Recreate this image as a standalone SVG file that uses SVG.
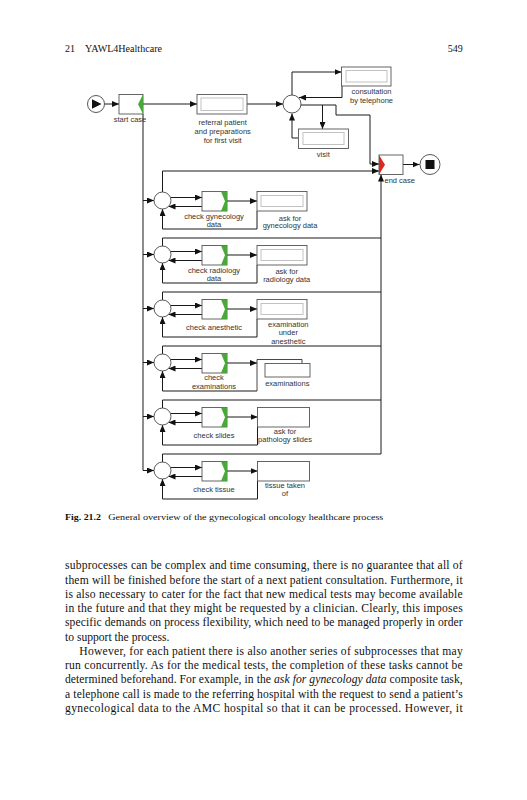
<svg xmlns="http://www.w3.org/2000/svg" width="527" height="800" viewBox="0 0 527 800">
<defs>
<style>
.ln{stroke:#1a1a1a;stroke-width:1;fill:none}
.box{fill:#fff;stroke:#555;stroke-width:0.9}
.inner{fill:none;stroke:#c2c2c2;stroke-width:1}
.gw{fill:#fff;stroke:#444;stroke-width:0.9}
.grn{fill:#4aa83a}
.lbl{font-family:"Liberation Sans",Arial,sans-serif;font-size:7.5px;fill:#333;text-anchor:middle}
.body{font-family:"Liberation Serif","Times New Roman",serif;font-size:11.6px;fill:#111}
.hdr{font-family:"Liberation Serif","Times New Roman",serif;font-size:10px;fill:#111}
.cap{font-family:"Liberation Serif","Times New Roman",serif;font-size:8.6px;fill:#111}
</style>
<marker id="ah" markerWidth="7" markerHeight="6" refX="7" refY="3" orient="auto" markerUnits="userSpaceOnUse"><path d="M0,0 L7,3 L0,6 z" fill="#111"/></marker>
</defs>
<rect width="527" height="800" fill="#fff"/>

<!-- header -->
<text class="hdr" x="65" y="51.7">21</text>
<text class="hdr" x="85" y="51.7" textLength="77" lengthAdjust="spacingAndGlyphs">YAWL4Healthcare</text>
<text class="hdr" x="462.7" y="51.7" text-anchor="end">549</text>

<!-- connectors -->
<g id="connectors" class="ln" marker-end="url(#ah)">
<path d="M104.5,104 H119"/>
<path d="M143,104 H197"/>
<path d="M247,104 H283"/>
<path d="M292,95 V72 H341.5"/>
<path d="M342,86 V97.5 H299"/>
<path d="M301,105 H336 V115 H370 V164 H379"/>
<path d="M322.5,105 V129"/>
<path d="M298.5,138 H292 V113.5"/>
<path d="M403,164.5 H419.5"/>
<path d="M162.5,192 V171 H379"/>
<path d="M381,454 V174.5"/>
<path d="M143,114 V470.5 H154"/>
<path d="M143,200.5 H154"/>
<path d="M143,254.5 H154"/>
<path d="M143,308.5 H154"/>
<path d="M143,362.5 H154"/>
<path d="M143,416.5 H154"/>
<!-- row 1 -->
<path d="M170.5,197.5 H202"/><path d="M202,206.5 H168.5"/><path d="M227,201 H257"/><path d="M257,211 V229 H162.5 V209"/>
<!-- row 2 -->
<path d="M170.5,251.5 H202"/><path d="M202,260.5 H168.5"/><path d="M227,255 H257"/><path d="M257,265 V283 H162.5 V263"/>
<path d="M162.5,246 V238 H381" marker-end="none"/>
<!-- row 3 -->
<path d="M170.5,305.5 H202"/><path d="M202,314.5 H168.5"/><path d="M227,309 H257"/><path d="M257,319 V337 H162.5 V317"/>
<path d="M162.5,300 V292 H381" marker-end="none"/>
<!-- row 4 -->
<path d="M170.5,359.5 H202"/><path d="M202,368.5 H168.5"/><path d="M227,363 H257"/><path d="M257,391 H162.5 V371"/>
<path d="M162.5,354 V346 H381" marker-end="none"/>
<!-- row 5 -->
<path d="M170.5,413.5 H202"/><path d="M202,422.5 H168.5"/><path d="M227,417 H257.5"/><path d="M257.5,427 V445 H162.5 V425"/>
<path d="M162.5,408 V400 H381" marker-end="none"/>
<!-- row 6 -->
<path d="M170.5,467.5 H202"/><path d="M202,476.5 H168.5"/><path d="M227,471 H257.5"/><path d="M257.5,481 V499 H162.5 V479"/>
<path d="M162.5,462 V454 H381" marker-end="none"/>
</g>

<!-- top nodes -->
<g id="start"><circle class="gw" cx="96" cy="104" r="8.5"/><polygon points="92,99.3 101.5,104 92,108.7" fill="#111"/></g>
<g id="start_case"><rect class="box" x="119" y="94.5" width="24" height="19.5"/><polygon class="grn" points="143,94.5 138,104.25 143,114"/><text class="lbl" x="130" y="121.8">start case</text></g>
<g id="referral"><rect class="box" x="197" y="94.5" width="50" height="19.5"/><rect class="inner" x="201" y="98" width="42" height="12.5"/>
<text class="lbl" x="222.7" y="125.3">referral patient</text><text class="lbl" x="222.7" y="134.3">and preparations</text><text class="lbl" x="222.7" y="143.3">for first visit</text></g>
<g id="xor_main"><circle class="gw" cx="292" cy="104" r="9"/></g>
<g id="consultation"><rect class="box" x="341.5" y="67" width="49.5" height="19"/><rect class="inner" x="346" y="70.5" width="41" height="11.5"/>
<text class="lbl" x="371.5" y="94.4">consultation</text><text class="lbl" x="371.5" y="103.4">by telephone</text></g>
<g id="visit"><rect class="box" x="298.5" y="129" width="50" height="19.5"/><rect class="inner" x="303" y="132.5" width="41" height="12"/>
<text class="lbl" x="323.3" y="156.7">visit</text></g>
<g id="end_case"><rect class="box" x="379" y="155" width="24" height="19.5"/><polygon points="379,155 385,164.75 379,174.5" fill="#e0261e"/>
<text class="lbl" x="384.5" y="183" style="text-anchor:start">end case</text></g>
<g id="end"><circle class="gw" cx="430" cy="164.5" r="10"/><rect x="425.5" y="160" width="9" height="9" fill="#111"/></g>

<!-- row 1 -->
<g id="gw1"><circle class="gw" cx="162.5" cy="200.5" r="8.5"/></g>
<g id="check_gyn"><rect class="box" x="202" y="191.5" width="25" height="19.5"/><polygon class="grn" points="221,191.5 227,191.5 227,211 221,211 225,201.25"/>
<text class="lbl" x="214" y="219.2">check gynecology</text><text class="lbl" x="214" y="227.2">data</text></g>
<g id="ask_gyn"><rect class="box" x="257" y="191.5" width="50" height="19.5"/><rect class="inner" x="261" y="195.5" width="42" height="11"/>
<text class="lbl" x="290" y="220.5">ask for</text><text class="lbl" x="290" y="228.3">gynecology data</text></g>
<!-- row 2 -->
<g id="gw2"><circle class="gw" cx="162.5" cy="254.5" r="8.5"/></g>
<g id="check_rad"><rect class="box" x="202" y="245.5" width="25" height="19.5"/><polygon class="grn" points="221,245.5 227,245.5 227,265 221,265 225,255.25"/>
<text class="lbl" x="214" y="273.2">check radiology</text><text class="lbl" x="214" y="281.2">data</text></g>
<g id="ask_rad"><rect class="box" x="257" y="245.5" width="50" height="19.5"/><rect class="inner" x="261" y="249.5" width="42" height="11"/>
<text class="lbl" x="286.7" y="273.8">ask for</text><text class="lbl" x="286.7" y="281.5">radiology data</text></g>
<!-- row 3 -->
<g id="gw3"><circle class="gw" cx="162.5" cy="308.5" r="8.5"/></g>
<g id="check_anes"><rect class="box" x="202" y="299.5" width="25" height="19.5"/><polygon class="grn" points="221,299.5 227,299.5 227,319 221,319 225,309.25"/>
<text class="lbl" x="214" y="330.3">check anesthetic</text></g>
<g id="exam_anes"><rect class="box" x="257" y="299.5" width="50" height="19.5"/><rect class="inner" x="261" y="303.5" width="42" height="11"/>
<text class="lbl" x="288.3" y="326.5">examination</text><text class="lbl" x="288.3" y="335">under</text><text class="lbl" x="288.3" y="343.5">anesthetic</text></g>
<!-- row 4 -->
<g id="gw4"><circle class="gw" cx="162.5" cy="362.5" r="8.5"/></g>
<g id="check_exam"><rect class="box" x="202" y="353.5" width="25" height="19.5"/><polygon class="grn" points="221,353.5 227,353.5 227,373 221,373 225,363.25"/>
<text class="lbl" x="214" y="380.2">check</text><text class="lbl" x="214" y="388.5">examinations</text></g>
<g id="examinations"><path d="M257,391 V359.5 H302 V363.5" fill="none" stroke="#333" stroke-width="0.9"/><rect class="box" x="265" y="363.5" width="45" height="13.5"/>
<text class="lbl" x="287.3" y="386.2">examinations</text></g>
<!-- row 5 -->
<g id="gw5"><circle class="gw" cx="162.5" cy="416.5" r="8.5"/></g>
<g id="check_slides"><rect class="box" x="202" y="407.5" width="25" height="19.5"/><polygon class="grn" points="221,407.5 227,407.5 227,427 221,427 225,417.25"/>
<text class="lbl" x="214" y="438.3">check slides</text></g>
<g id="ask_slides"><rect class="box" x="257.5" y="407.5" width="52" height="19.5"/>
<text class="lbl" x="285" y="434.2">ask for</text><text class="lbl" x="285" y="441.9">pathology slides</text></g>
<!-- row 6 -->
<g id="gw6"><circle class="gw" cx="162.5" cy="470.5" r="8.5"/></g>
<g id="check_tissue"><rect class="box" x="202" y="461.5" width="25" height="19.5"/><polygon class="grn" points="221,461.5 227,461.5 227,481 221,481 225,471.25"/>
<text class="lbl" x="214" y="492.3">check tissue</text></g>
<g id="tissue_taken"><rect class="box" x="257.5" y="461.5" width="52" height="19.5"/>
<text class="lbl" x="285" y="487.5">tissue taken</text><text class="lbl" x="285" y="495.8">of</text></g>

<!-- caption -->
<text class="cap" x="65" y="520" font-weight="bold" textLength="36" lengthAdjust="spacingAndGlyphs">Fig. 21.2</text>
<text class="cap" x="108.3" y="520" textLength="275" lengthAdjust="spacingAndGlyphs">General overview of the gynecological oncology healthcare process</text>

<!-- body -->
<text class="body" x="65" y="569.3" textLength="397.7" lengthAdjust="spacing">subprocesses can be complex and time consuming, there is no guarantee that all of</text>
<text class="body" x="65" y="583.55" textLength="397.7" lengthAdjust="spacing">them will be finished before the start of a next patient consultation. Furthermore, it</text>
<text class="body" x="65" y="597.8" textLength="397.7" lengthAdjust="spacing">is also necessary to cater for the fact that new medical tests may become available</text>
<text class="body" x="65" y="612.05" textLength="397.7" lengthAdjust="spacing">in the future and that they might be requested by a clinician. Clearly, this imposes</text>
<text class="body" x="65" y="626.3" textLength="397.7" lengthAdjust="spacing">specific demands on process flexibility, which need to be managed properly in order</text>
<text class="body" x="65" y="640.55">to support the process.</text>
<text class="body" x="79.3" y="654.8" textLength="383.4" lengthAdjust="spacing">However, for each patient there is also another series of subprocesses that may</text>
<text class="body" x="65" y="669.05" textLength="397.7" lengthAdjust="spacing">run concurrently. As for the medical tests, the completion of these tasks cannot be</text>
<text class="body" x="65" y="683.3" textLength="397.7" lengthAdjust="spacing">determined beforehand. For example, in the <tspan font-style="italic">ask for gynecology data</tspan> composite task,</text>
<text class="body" x="65" y="697.55" textLength="397.7" lengthAdjust="spacing">a telephone call is made to the referring hospital with the request to send a patient’s</text>
<text class="body" x="65" y="711.8" textLength="397.7" lengthAdjust="spacing">gynecological data to the AMC hospital so that it can be processed. However, it</text>
</svg>
